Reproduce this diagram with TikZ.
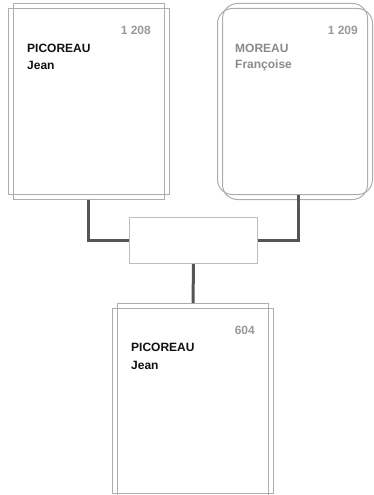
\documentclass[tikz,border=0pt]{standalone}
\usepackage{fontspec}
\setmainfont{Liberation Sans}
\definecolor{boxline}{HTML}{ADADAD}
\definecolor{midline}{HTML}{BDBDBD}
\definecolor{conn}{HTML}{555555}
\definecolor{numgray}{HTML}{999999}
\definecolor{namegray}{HTML}{8A8A8A}
\definecolor{nameblack}{HTML}{111111}
\begin{document}
\begin{tikzpicture}[x=1pt,y=-1pt,
  card/.style={draw=boxline, line width=1pt, inner sep=0pt, anchor=north west},
  rcard/.style={card, rounded corners=15pt},
  txt/.style={font=\fontsize{12}{14}\selectfont\bfseries, inner sep=0pt},
  conline/.style={draw=conn, line width=3pt}]
\useasboundingbox (0,0) rectangle (374,495);
% box 1
\node[card, minimum width=151pt, minimum height=196pt] (b1a) at (13,3) {};
\node[card, minimum width=161pt, minimum height=186pt] (b1b) at (8,8) {};
\node[txt, anchor=east, text=numgray] (n1) at (151,30.5) {1 208};
\node[txt, anchor=west, text=nameblack] (s1) at (27,48) {PICOREAU};
\node[txt, anchor=west, text=nameblack] (f1) at (27,65) {Jean};
% box 2
\node[rcard, minimum width=145pt, minimum height=196pt] (b2a) at (222,3) {};
\node[rcard, minimum width=155pt, minimum height=186pt] (b2b) at (217,8) {};
\node[txt, anchor=east, text=numgray] (n2) at (358,30.5) {1 209};
\node[txt, anchor=west, text=namegray] (s2) at (235,48) {MOREAU};
\node[txt, anchor=west, text=namegray] (f2) at (235,65) {Françoise};
% middle
\node[draw=midline, line width=1pt, inner sep=0pt, anchor=north west,
  minimum width=128pt, minimum height=46pt] (mid) at (129,217) {};
% box 3
\node[card, minimum width=151pt, minimum height=197pt] (b3a) at (117,303) {};
\node[card, minimum width=161pt, minimum height=185pt] (b3b) at (112,308) {};
\node[txt, anchor=east, text=numgray] (n3) at (255,330) {604};
\node[txt, anchor=west, text=nameblack] (s3) at (131,347) {PICOREAU};
\node[txt, anchor=west, text=nameblack] (f3) at (131,365) {Jean};
% connectors
\coordinate (c1) at (88,199.5);
\coordinate (c2) at (298,195);
\draw[conline] (c1) |- (mid.west);
\draw[conline] (c2) |- (mid.east);
\draw[conline] (mid.south) -- (b3a.north);
\end{tikzpicture}
\end{document}
